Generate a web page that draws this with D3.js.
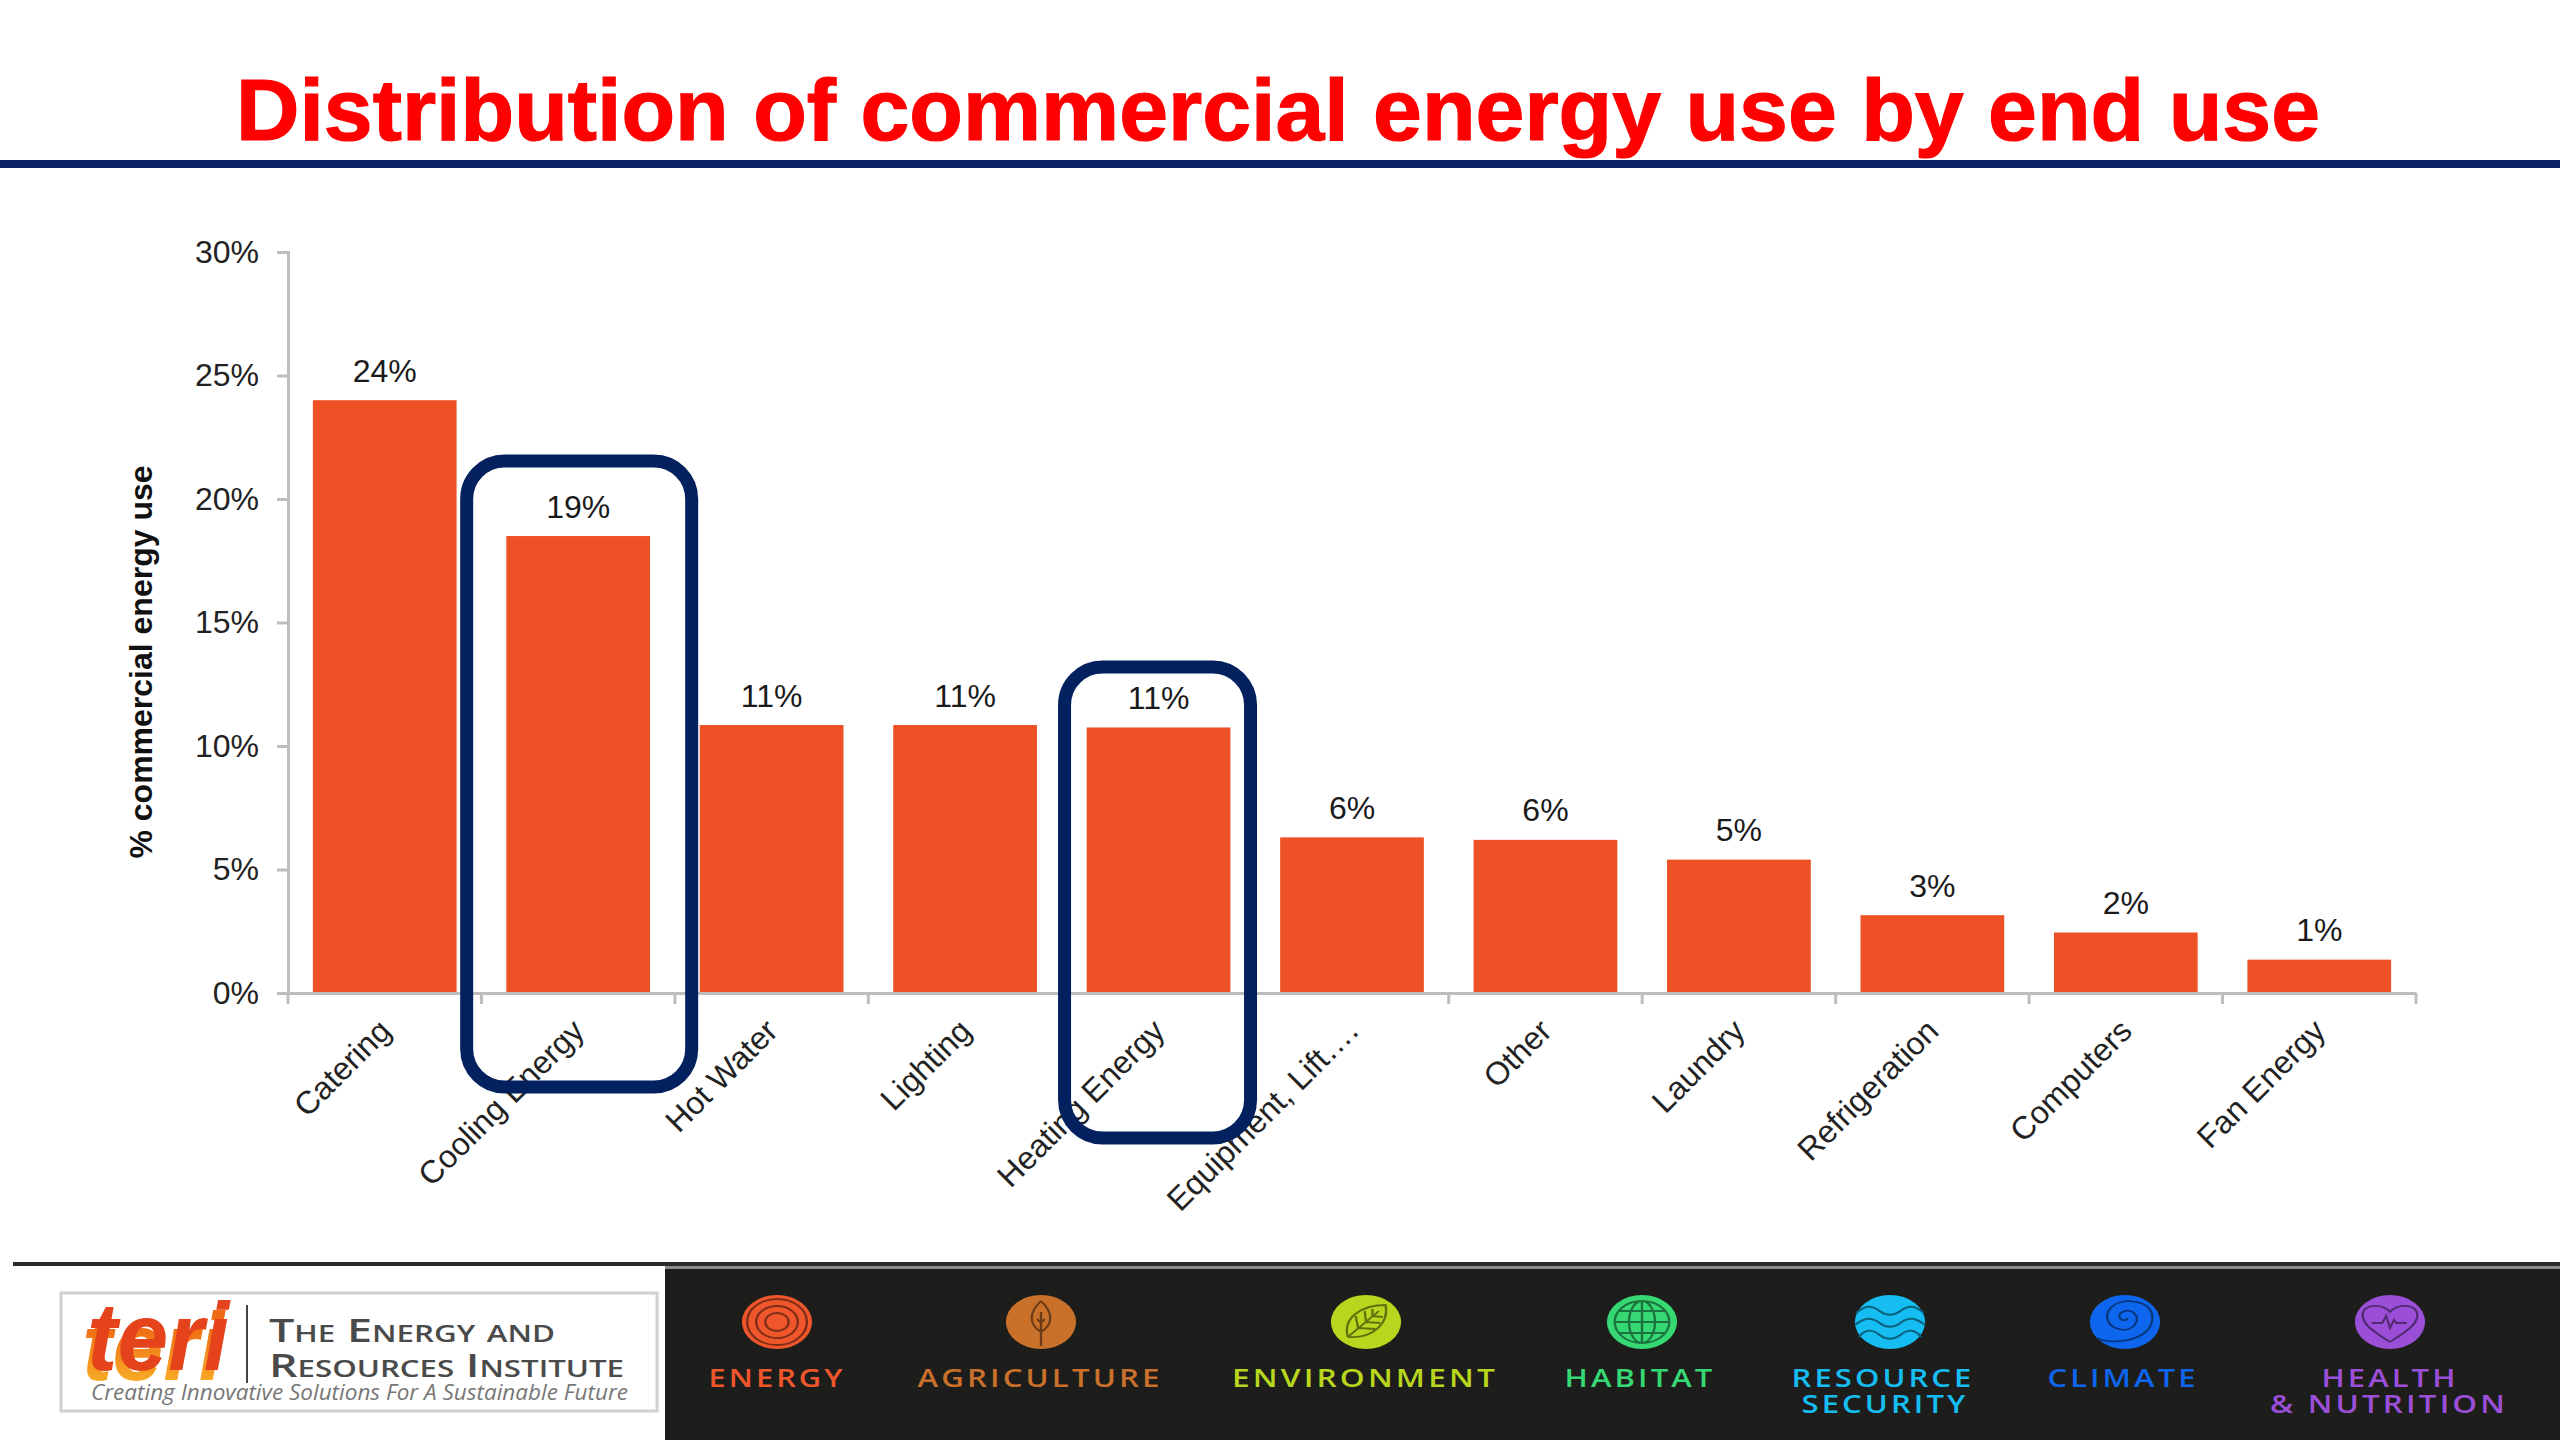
<!DOCTYPE html>
<html>
<head>
<meta charset="utf-8">
<title>Distribution of commercial energy use by end use</title>
<script src="https://cdn.jsdelivr.net/npm/d3@7"></script>
<style>
  html, body { margin: 0; padding: 0; background: #fff; }
  svg { display: block; }
  text { font-family: "Liberation Sans", Arial, sans-serif; }
  .foot text { font-family: "Open Sans", sans-serif; font-weight: 600; letter-spacing: 2.5px; }
</style>
</head>
<body>
<svg id="chart" width="2560" height="1440"></svg>
<script>
// chart data
const categories = ["Catering", "Cooling Energy", "Hot Water", "Lighting", "Heating Energy",
    "Equipment, Lift….", "Other", "Laundry", "Refrigeration", "Computers", "Fan Energy"];
const shares = [24, 18.5, 10.85, 10.85, 10.75, 6.3, 6.2, 5.4, 3.15, 2.45, 1.35];
const yTicks = [0, 5, 10, 15, 20, 25, 30];
const highlighted = ["Cooling Energy", "Heating Energy"];

const title = "Distribution of commercial energy use by end use";
const yTitle = "% commercial energy use";

const svg = d3.select("#chart");

// title and rule ------------------------------------------------------
svg.append("text")
    .attr("x", 236).attr("y", 140)
    .attr("textLength", 2084).attr("lengthAdjust", "spacingAndGlyphs")
    .attr("font-size", 88).attr("font-weight", 700).attr("fill", "#ff0000")
    .attr("stroke", "#ff0000").attr("stroke-width", 1.2)
    .text(title);

svg.append("rect").attr("x", 0).attr("y", 160).attr("width", 2560).attr("height", 8).attr("fill", "#0b2265");

// scales --------------------------------------------------------------
const x = d3.scaleBand().domain(categories).range([288, 2416]).paddingInner(0.257).paddingOuter(0.1285);
const y = d3.scaleLinear().domain([0, 30]).range([993, 252]);

// bars
svg.append("g").selectAll("rect")
    .data(categories)
    .join("rect")
    .attr("x", d => x(d))
    .attr("y", (d, i) => y(shares[i]))
    .attr("width", x.bandwidth())
    .attr("height", (d, i) => y(0) - y(shares[i]))
    .attr("fill", "#ee5125");

// value labels
svg.append("g").selectAll("text")
    .data(categories)
    .join("text")
    .attr("x", d => x(d) + x.bandwidth() / 2)
    .attr("y", (d, i) => y(shares[i]) - 18.5)
    .attr("text-anchor", "middle")
    .attr("font-size", 32)
    .attr("fill", "#1a1a1a")
    .text((d, i) => Math.round(shares[i]) + "%");

// axes ----------------------------------------------------------------
const axisColor = "#bdbdbd";

const yAxis = svg.append("g")
    .attr("transform", "translate(288,0)")
    .call(d3.axisLeft(y).tickValues(yTicks).tickSize(11).tickPadding(18).tickFormat(d => d + "%"));
yAxis.selectAll("path, line").attr("stroke", axisColor).attr("stroke-width", 3);
yAxis.selectAll("text").attr("font-size", 32).attr("font-family", "Liberation Sans").attr("fill", "#222");

const xAxis = svg.append("g")
    .attr("transform", "translate(0,993)")
    .call(d3.axisBottom(x).tickSize(0).tickSizeOuter(0));
xAxis.select("path").attr("stroke", axisColor).attr("stroke-width", 3);
xAxis.selectAll("text")
    .attr("font-size", 32).attr("font-family", "Liberation Sans").attr("fill", "#222")
    .attr("text-anchor", "end")
    .attr("dy", null).attr("y", 0)
    .attr("transform", "translate(8,40) rotate(-45)");

// the ticks sit between the bands, so they are not the axis' own
const edges = d3.range(categories.length + 1).map(i => 288 + i * x.step());
svg.append("g").selectAll("line")
    .data(edges)
    .join("line")
    .attr("x1", d => d).attr("x2", d => d)
    .attr("y1", 993).attr("y2", 1004)
    .attr("stroke", axisColor).attr("stroke-width", 3);

svg.append("text")
    .attr("transform", "translate(152,662) rotate(-90)")
    .attr("text-anchor", "middle")
    .attr("font-size", 32).attr("font-weight", 700).attr("fill", "#111")
    .text(yTitle);

// the navy boxes around cooling and heating ----------------------------
const boxes = [{top: 461, bottom: 1087, width: 225, shift: 1}, {top: 667, bottom: 1138, width: 186, shift: -1}];
svg.append("g").selectAll("rect")
    .data(highlighted)
    .join("rect")
    .attr("x", (d, i) => x(d) + x.bandwidth() / 2 - boxes[i].width / 2 + boxes[i].shift)
    .attr("y", (d, i) => boxes[i].top)
    .attr("width", (d, i) => boxes[i].width)
    .attr("height", (d, i) => boxes[i].bottom - boxes[i].top)
    .attr("rx", 38).attr("ry", 38)
    .attr("fill", "none").attr("stroke", "#04215f").attr("stroke-width", 13);

// footer --------------------------------------------------------------
svg.append("rect").attr("x", 13).attr("y", 1262).attr("width", 2547).attr("height", 4).attr("fill", "#2a2a2a");
svg.append("rect").attr("x", 665).attr("y", 1266).attr("width", 1895).attr("height", 3).attr("fill", "#8a8a8a");
svg.append("rect").attr("x", 665).attr("y", 1269).attr("width", 1895).attr("height", 171).attr("fill", "#1d1d1b");

// logo
const defs = svg.append("defs");
const grad = defs.append("linearGradient").attr("id", "teriShade").attr("x1", 0).attr("y1", 0).attr("x2", 0).attr("y2", 1);
grad.append("stop").attr("offset", "0.3").attr("stop-color", "#ef6a14");
grad.append("stop").attr("offset", "1").attr("stop-color", "#fbc02d");

const logo = svg.append("g");
logo.append("rect")
    .attr("x", 61).attr("y", 1293).attr("width", 596).attr("height", 118)
    .attr("fill", "#fff").attr("stroke", "#d0d0d0").attr("stroke-width", 3);
logo.append("text")
    .attr("x", 82).attr("y", 1380).attr("textLength", 142).attr("lengthAdjust", "spacingAndGlyphs")
    .attr("font-size", 96).attr("font-weight", 700).attr("font-style", "italic").attr("fill", "url(#teriShade)")
    .text("teri");
logo.append("text")
    .attr("x", 87).attr("y", 1370).attr("textLength", 142).attr("lengthAdjust", "spacingAndGlyphs")
    .attr("font-size", 96).attr("font-weight", 700).attr("font-style", "italic").attr("fill", "#e5431b")
    .text("teri");
logo.append("rect").attr("x", 246).attr("y", 1305).attr("width", 2).attr("height", 78).attr("fill", "#444");
logo.selectAll("text.name")
    .data([{t: "The Energy and", y: 1342, w: 286}, {t: "Resources Institute", y: 1377, w: 355}])
    .join("text")
    .attr("class", "name")
    .attr("x", 269).attr("y", d => d.y)
    .attr("textLength", d => d.w).attr("lengthAdjust", "spacingAndGlyphs")
    .attr("font-size", 33).attr("fill", "#4a4a4a")
    .style("font-family", "'Open Sans'").style("font-variant", "small-caps").style("font-weight", 600)
    .text(d => d.t);
logo.append("text")
    .attr("x", 91).attr("y", 1400).attr("textLength", 537).attr("lengthAdjust", "spacingAndGlyphs")
    .attr("font-size", 21).attr("font-style", "italic").attr("fill", "#777")
    .style("font-family", "'Open Sans'")
    .text("Creating Innovative Solutions For A Sustainable Future");

// theme icons: drawn around (0,0) on a circle of radius 27, then stretched sideways as in the picture
const icons = {
    rings: "M0,-23A23,23 0 1 1 0,23A23,23 0 1 1 0,-23M0,-16A16,16 0 1 1 0,16A16,16 0 1 1 0,-16M0,-9A9,9 0 1 1 0,9A9,9 0 1 1 0,-9",
    tree: "M0,-21C-9,-10 -10,2 0,10C10,2 9,-10 0,-21M0,-10L0,24M-3,-3L0,1L3,-3",
    leaf: "M-14,15C-18,-4 -4,-17 15,-17C18,0 6,17 -14,15M-14,15L10,-11M-6,6L-8,-6M0,0L-1,-11M5,-6L5,-13M-6,6L7,7M0,0L11,1M5,-6L13,-5",
    globe: "M0,-21A21,21 0 1 1 0,21A21,21 0 1 1 0,-21M0,-21A10,21 0 1 1 0,21A10,21 0 1 1 0,-21M0,-21L0,21M-21,0L21,0M-18,-11L18,-11M-18,11L18,11",
    waves: "M-26,-9C-19,-17 -14,-17 -8,-11C-3,-6 3,-6 8,-11C14,-17 19,-17 26,-9M-27,3C-19,-5 -14,-5 -8,1C-3,6 3,6 8,1C14,-5 19,-5 27,3M-24,15C-19,7 -14,7 -8,13C-3,18 3,18 8,13C14,7 19,7 24,15",
    spiral: "M-22,16C-8,24 20,18 21,-3C22,-18 8,-23 -3,-20C-16,-16 -18,2 -5,7C6,11 13,-2 7,-9C2,-14 -6,-10 -4,-4C-3,-1 1,-1 2,-4",
    heart: "M0,20C-12,10 -22,2 -21,-8C-20,-18 -6,-19 0,-10C6,-19 20,-18 21,-8C22,2 12,10 0,20M-14,1L-6,1L-3,-6L0,6L3,-2L5,1L13,1"
};
const themes = [
    {icon: "rings",  color: "#f0562b", cx: 777,  lines: [{t: "ENERGY", c: 777, w: 137}]},
    {icon: "tree",   color: "#c9702a", cx: 1041, lines: [{t: "AGRICULTURE", c: 1040, w: 245}]},
    {icon: "leaf",   color: "#b7d61d", cx: 1366, lines: [{t: "ENVIRONMENT", c: 1365, w: 266}]},
    {icon: "globe",  color: "#36d873", cx: 1642, lines: [{t: "HABITAT", c: 1640, w: 151}]},
    {icon: "waves",  color: "#16bdf2", cx: 1890, lines: [{t: "RESOURCE", c: 1883, w: 183}, {t: "SECURITY", c: 1885, w: 167}]},
    {icon: "spiral", color: "#0f66ee", cx: 2125, lines: [{t: "CLIMATE", c: 2123, w: 151}]},
    {icon: "heart",  color: "#9b4fd8", cx: 2390, lines: [{t: "HEALTH", c: 2390, w: 137}, {t: "& NUTRITION", c: 2389, w: 238}]}
];

const foot = svg.append("g").attr("class", "foot");
const theme = foot.selectAll("g").data(themes).join("g");

const badge = theme.append("g").attr("transform", d => `translate(${d.cx},1322) scale(1.3,1)`);
badge.append("circle").attr("r", 27).attr("fill", d => d.color);
badge.append("path")
    .attr("d", d => icons[d.icon])
    .attr("fill", "none")
    .attr("stroke", d => d3.color(d.color).darker(1.8))
    .attr("stroke-width", 1.8);

theme.selectAll("text")
    .data(d => d.lines.map((l, i) => ({...l, i, color: d.color})))
    .join("text")
    .attr("x", d => d.c - d.w / 2)
    .attr("y", d => 1387 + d.i * 26)
    .attr("textLength", d => d.w).attr("lengthAdjust", "spacingAndGlyphs")
    .attr("font-size", 25)
    .attr("fill", d => d.color)
    .text(d => d.t);
</script>
</body>
</html>
